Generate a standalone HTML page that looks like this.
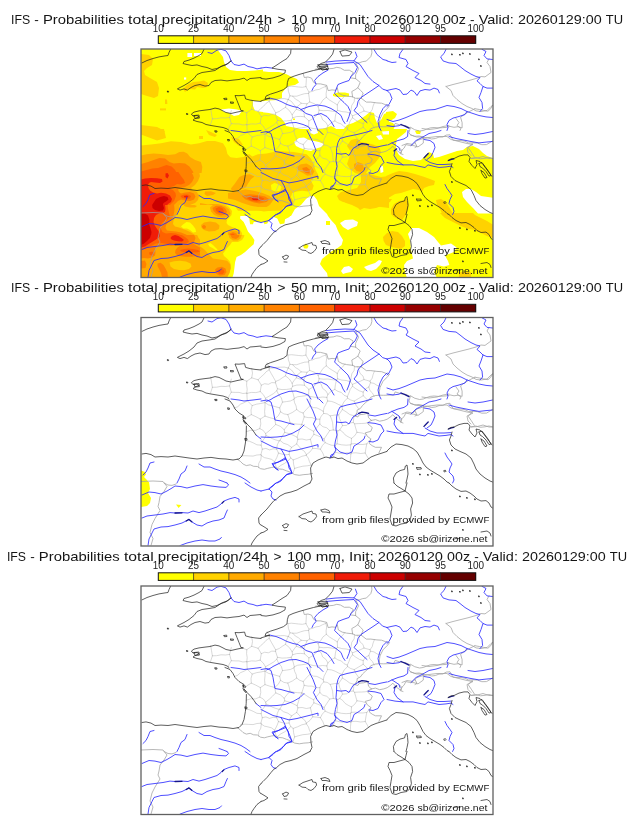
<!DOCTYPE html>
<html lang="en"><head><meta charset="utf-8"><title>IFS precipitation probabilities</title>
<style>html,body{margin:0;padding:0;background:#fff}body{width:630px;height:828px;overflow:hidden;font-family:"Liberation Sans",sans-serif}svg{display:block;will-change:transform}</style></head><body>
<svg width="630" height="828" viewBox="0 0 630 828">
<defs>
<clipPath id="mc"><rect x="0" y="0" width="352.0" height="228.0"/></clipPath>
<g id="base" fill="none" stroke-linejoin="round" stroke-linecap="round">
<path stroke="#b2b2b2" stroke-width="0.5" d="M117.6,150.2 L117.7,146.0 L119.8,142.2 L120.3,138.0 M99.8,138.5 L103.9,138.2 L107.9,138.4 L112.0,138.6 L115.9,137.5 L119.9,137.2 M120.3,138.0 L119.9,137.2 M165.4,28.7 L165.2,33.1 L164.9,37.6 M164.9,37.6 L161.3,38.3 L157.7,38.0 L154.1,37.6 L150.5,37.2 L146.9,37.6 M120.3,138.0 L123.3,140.1 L127.0,140.9 L130.6,141.9 L133.6,144.2 M135.2,149.9 L133.6,144.2 M105.2,114.2 L109.7,112.8 L114.4,112.9 L118.8,111.1 M104.1,123.0 L108.3,123.7 L112.1,125.3 L115.9,127.3 L120.1,127.7 M118.8,111.1 L122.3,113.0 L124.6,116.2 M124.6,116.2 L125.0,118.1 M125.0,118.1 L123.2,121.2 L121.0,124.1 L120.1,127.7 M119.9,137.2 L121.3,131.7 M121.3,131.7 L120.1,127.7 M217.6,91.3 L215.0,87.7 L213.2,83.6 M213.2,83.6 L217.8,80.9 L222.2,78.2 M227.1,83.0 L222.2,78.2 M188.7,113.1 L185.8,110.3 L181.8,109.2 L178.8,106.5 M188.7,113.1 L185.9,117.3 L183.1,121.5 M183.1,121.5 L179.9,119.5 L176.4,118.1 L172.9,116.8 M178.8,106.5 L175.8,110.2 L172.6,113.8 M172.6,113.8 L172.9,116.8 M179.4,131.7 L181.3,128.1 L184.1,125.1 M184.1,125.1 L183.1,121.5 M171.7,130.8 L170.5,126.3 L169.4,121.8 M171.7,130.8 L175.6,131.1 L179.4,131.7 M169.4,121.8 L172.9,116.8 M90.3,74.7 L94.2,74.9 L98.0,74.9 L101.9,76.0 L105.8,75.6 M105.8,75.6 L105.9,75.9 M93.3,90.6 L96.8,89.2 L99.6,86.6 L103.1,85.2 L106.3,83.2 M86.9,82.1 L88.2,78.2 L90.3,74.7 M106.3,83.2 L106.0,79.5 L105.9,75.9 M88.6,68.4 L90.3,61.6 M88.6,68.4 L84.4,69.0 L80.0,68.8 L75.7,69.7 L71.4,69.8 M71.4,69.8 L70.5,64.7 L69.7,59.5 M90.3,74.7 L88.6,68.4 M105.8,75.6 L106.2,71.7 L105.6,67.7 L105.8,63.7 M105.8,63.7 L99.7,61.5 M69.5,75.6 L71.4,69.8 M105.8,63.7 L110.7,60.3 M110.7,60.3 L111.5,55.6 L110.7,50.9 M178.8,101.7 L178.8,106.5 M178.8,101.7 L174.8,101.7 L171.1,100.1 L167.1,100.1 L163.2,99.3 M160.8,107.0 L164.8,109.2 L168.6,111.7 L172.6,113.8 M160.8,107.0 L160.8,106.9 M160.8,106.9 L162.0,103.1 L163.2,99.3 M151.2,65.8 L151.6,68.8 M151.2,65.8 L153.2,62.9 L155.4,60.2 M151.6,68.8 L155.5,67.6 L159.5,67.4 L163.5,67.8 M155.4,60.2 L159.0,61.6 L162.7,62.3 M162.7,62.3 L163.5,67.8 M167.6,77.5 L167.9,71.9 M167.6,77.5 L164.0,78.3 L160.4,78.8 L156.7,79.2 L153.3,80.8 M167.9,71.9 L163.5,67.8 M153.3,80.8 L152.1,76.0 L150.2,71.3 M150.2,71.3 L151.6,68.8 M147.3,50.5 L149.0,46.8 M147.3,50.5 L150.5,52.5 L152.8,55.5 L155.2,58.4 M160.2,54.3 L157.5,51.8 L154.3,50.0 L151.8,47.2 M160.2,54.3 L155.2,58.4 M151.8,47.2 L149.0,46.8 M147.2,50.5 L147.3,50.5 M147.2,50.5 L143.4,49.6 L139.6,49.7 L135.8,49.8 L132.0,50.5 L128.2,50.5 M146.9,37.6 L147.4,42.3 L149.0,46.8 M128.2,50.5 L126.2,45.5 M155.4,60.2 L155.2,58.4 M144.5,58.3 L148.4,61.6 L151.2,65.8 M144.5,58.3 L145.5,54.3 L147.2,50.5 M167.6,44.4 L168.2,48.6 L168.7,52.9 M167.6,44.4 L163.5,44.7 L159.7,45.8 L155.8,47.2 L151.8,47.2 M166.0,54.8 L168.7,52.9 M166.0,54.8 L160.2,54.3 M166.0,54.8 L164.6,58.6 L162.7,62.3 M164.9,37.6 L168.0,43.1 M168.0,43.1 L167.6,44.4 M153.6,150.9 L152.6,146.7 L152.2,142.4 M153.6,150.9 L157.7,149.7 L161.8,148.7 L166.1,148.3 L170.2,147.6 M170.2,147.6 L168.5,144.3 L167.4,140.8 L165.3,137.8 M165.3,137.8 L160.8,138.8 L156.6,140.8 L152.2,142.4 M151.8,156.1 L153.6,150.9 M136.6,150.4 L139.8,147.9 L143.5,145.9 L146.9,143.6 L149.7,140.5 M152.2,142.4 L149.7,140.5 M133.6,144.2 L135.8,140.0 L137.5,135.6 M149.7,140.5 L148.1,137.0 M137.5,135.6 L141.0,136.6 L144.5,137.3 L148.1,137.0 M121.3,131.7 L124.9,130.9 L128.5,132.4 L132.1,131.3 L135.7,131.7 M137.5,135.6 L135.7,131.7 M125.0,118.1 L128.3,119.4 L131.4,121.2 L134.7,122.4 L138.2,123.4 M135.7,131.7 L136.3,127.3 L138.2,123.4 M233.1,79.0 L231.6,75.7 L228.9,73.0 L227.8,69.5 M239.4,68.9 L236.0,67.9 L233.0,65.9 L229.5,65.2 M229.5,65.2 L227.8,69.5 M216.0,114.8 L214.7,110.6 L213.5,106.3 M213.5,106.3 L217.1,106.1 L220.6,106.0 L224.1,105.8 L227.5,104.9 M225.8,117.1 L221.0,115.5 L216.0,114.8 M213.0,98.3 L215.7,95.7 M212.3,105.0 L213.0,98.3 M212.3,105.0 L213.5,106.3 M222.2,74.6 L224.4,71.4 L227.8,69.5 M222.2,78.2 L222.2,74.6 M227.5,141.2 L224.2,135.5 M224.2,135.5 L224.9,130.9 L225.8,126.4 M225.8,126.4 L229.8,121.5 M233.5,53.6 L232.1,57.0 L231.2,60.7 L229.0,63.7 M229.0,63.7 L229.5,65.2 M211.4,66.9 L215.3,65.3 L219.2,63.8 L223.0,62.0 M211.4,66.9 L211.5,68.7 M211.5,68.7 L214.8,71.2 L218.3,73.3 L222.2,74.6 M223.0,62.0 L229.0,63.7 M225.8,126.4 L221.9,127.0 L218.0,126.9 L214.1,126.1 L210.2,126.4 M216.0,114.8 L213.7,118.3 L210.5,120.9 M210.5,120.9 L210.2,126.4 M224.2,135.5 L219.6,136.0 L215.0,135.3 L210.4,135.5 M210.4,135.5 L209.5,131.4 L209.7,127.3 M210.2,126.4 L209.7,127.3 M191.6,140.5 L194.4,134.7 M194.4,134.7 L198.3,135.7 L202.1,136.2 L206.2,135.2 L209.9,136.4 M209.9,136.4 L209.5,140.7 L209.2,145.0 M184.1,125.1 L187.4,126.6 L190.8,127.8 L194.4,127.9 M179.4,131.7 L181.8,135.6 L183.5,139.9 M194.4,127.9 L194.4,134.7 M165.4,137.1 L165.3,137.8 M170.2,147.6 L170.7,148.0 M171.7,130.8 L169.0,134.4 L165.4,137.1 M196.0,126.3 L200.5,127.3 L205.1,127.7 L209.7,127.3 M194.4,127.9 L196.0,126.3 M210.4,135.5 L209.9,136.4 M182.7,95.9 L182.3,93.8 M178.8,101.7 L180.3,98.5 L182.7,95.9 M162.2,95.5 L163.2,99.3 M162.2,95.5 L165.6,91.7 L169.1,88.1 M182.3,93.8 L179.1,92.0 L175.9,90.4 L172.1,90.1 L169.1,88.1 M197.7,97.4 L193.4,97.6 L189.2,98.4 M197.7,97.4 L198.5,101.1 L200.2,104.6 L201.5,108.1 M189.2,98.4 L190.6,101.8 L191.6,105.2 L191.9,108.8 L192.3,112.4 M201.5,108.1 L198.8,112.4 M198.8,112.4 L196.8,113.4 M192.3,112.4 L196.8,113.4 M212.3,105.0 L208.6,105.5 L205.4,107.9 L201.5,108.1 M201.4,92.0 L197.7,97.4 M213.0,98.3 L208.7,97.0 L205.1,94.3 L201.4,92.0 M188.7,113.1 L192.3,112.4 M182.7,95.9 L186.2,96.4 L189.2,98.4 M210.5,120.9 L207.2,119.3 L204.1,117.4 L201.8,114.5 L198.8,112.4 M196.0,126.3 L196.6,122.0 L196.4,117.7 L196.8,113.4 M201.4,92.0 L201.0,88.4 M182.3,93.8 L183.1,90.1 L184.9,86.8 L186.6,83.5 M201.0,88.4 L197.5,87.0 L194.1,85.2 L190.5,83.9 L186.6,83.5 M213.2,83.6 L209.7,82.5 L206.6,80.6 M201.0,88.4 L203.1,84.0 L206.6,80.6 M168.6,78.8 L172.9,79.6 L177.2,80.1 L181.5,79.5 L185.8,79.9 M169.1,88.1 L169.3,83.4 L168.6,78.8 M185.8,79.9 L186.6,83.5 M211.5,68.7 L209.2,71.9 L207.9,75.6 L206.3,79.1 M206.3,79.1 L206.6,80.6 M223.0,62.0 L222.0,58.5 L219.1,56.0 L217.9,52.6 L216.7,49.3 M211.4,66.9 L209.4,64.2 M209.4,64.2 L210.1,60.3 L210.8,56.3 L213.2,52.8 L213.5,48.8 M120.3,67.7 L117.1,62.3 M120.3,67.7 L123.7,66.2 L127.4,66.8 L130.8,65.1 L134.5,65.3 M117.1,62.3 L119.7,59.6 L122.6,57.2 L125.1,54.3 L128.2,52.3 M128.2,52.3 L130.3,56.2 L132.5,60.0 L134.7,63.9 M134.5,65.3 L134.7,63.9 M105.9,75.9 L110.3,74.9 L114.8,75.1 L119.2,74.1 M119.2,74.1 L120.3,67.7 M110.7,60.3 L117.1,62.3 M119.2,74.1 L122.3,77.1 L124.5,80.8 M135.8,73.2 L132.4,76.2 L128.4,78.5 L124.5,80.8 M136.5,71.3 L134.5,65.3 M135.8,73.2 L136.5,71.3 M128.2,50.5 L128.2,52.3 M144.5,58.3 L141.3,60.3 L138.2,62.5 L134.7,63.9 M136.5,71.3 L141.0,72.1 L145.6,71.9 L150.2,71.3 M110.3,97.1 L110.0,92.5 L111.2,88.1 M110.3,97.1 L114.9,99.2 L119.3,101.6 M111.2,88.1 L115.4,86.7 L119.7,86.0 L124.0,85.1 M119.3,101.6 L124.0,98.6 M124.0,98.6 L123.6,94.1 L124.0,89.6 L124.0,85.2 M124.0,85.2 L124.0,85.1 M105.8,99.8 L110.3,97.1 M106.3,83.2 L111.2,88.1 M118.8,111.1 L119.8,106.4 L119.3,101.6 M124.5,80.8 L124.0,85.1 M134.7,106.9 L133.7,101.4 M133.7,101.4 L128.8,100.2 L124.0,98.6 M124.6,116.2 L128.2,113.3 L131.5,110.2 L134.7,106.9 M146.8,97.1 L151.5,94.9 L155.7,92.0 M146.8,97.1 L142.9,96.4 L139.5,94.3 M141.5,84.6 L138.7,90.4 M141.5,84.6 L145.4,84.1 L149.3,83.5 L152.9,81.8 M152.9,81.8 L153.6,85.3 L155.1,88.5 L155.7,92.0 M138.7,90.4 L139.5,94.3 M149.0,105.3 L148.2,101.1 L146.8,97.1 M149.0,105.3 L152.9,106.3 L156.8,106.7 L160.8,106.9 M162.2,95.5 L158.7,94.3 L155.7,92.0 M133.7,101.4 L137.2,98.4 L139.5,94.3 M143.2,112.2 L139.4,108.9 L134.7,106.9 M143.2,112.2 L146.0,108.7 L149.0,105.3 M135.8,73.2 L137.6,77.1 L140.4,80.5 L141.5,84.6 M124.0,85.2 L127.4,87.3 L131.2,88.3 L134.9,89.3 L138.7,90.4 M153.3,80.8 L152.9,81.8 M167.6,77.5 L168.6,78.8 M150.6,129.9 L146.9,127.2 L142.5,125.7 L139.0,122.9 M150.6,129.9 L155.7,126.4 M155.7,126.4 L156.9,121.8 M143.7,114.8 L148.0,116.1 L152.1,117.7 L156.1,119.7 M143.7,114.8 L141.2,118.8 L139.0,122.9 M156.9,121.8 L156.1,119.7 M148.1,137.0 L148.6,133.2 L150.6,129.9 M138.2,123.4 L139.0,122.9 M165.4,137.1 L163.5,133.9 L160.5,131.8 L158.1,129.1 L155.7,126.4 M169.4,121.8 L165.3,122.5 L161.1,121.5 L156.9,121.8 M143.2,112.2 L143.7,114.8 M160.8,107.0 L158.7,111.1 L157.5,115.4 L156.1,119.7 M186.9,76.9 L190.0,74.0 L193.8,71.9 M186.9,76.9 L184.9,73.4 L181.6,70.9 L180.2,67.0 L177.4,64.2 M177.4,64.2 L178.1,61.2 M178.1,61.2 L182.5,61.7 L186.9,61.5 L191.2,62.2 L195.5,62.5 M195.5,62.5 L194.4,67.2 L193.8,71.9 M206.3,79.1 L203.0,77.7 L200.4,75.0 L196.8,73.8 L193.8,71.9 M185.8,79.9 L186.9,76.9 M167.9,71.9 L171.5,69.9 L174.6,67.2 L177.4,64.2 M177.2,57.8 L178.1,61.2 M168.7,52.9 L173.3,54.7 L177.2,57.8 M209.4,64.2 L205.2,63.0 L200.8,62.6 L196.5,61.3 M196.5,61.3 L195.5,62.5 M185.3,48.3 L188.7,51.2 L192.6,53.5 L196.3,55.9 M185.3,48.3 L185.1,44.7 L185.7,41.0 L184.9,37.4 M196.3,55.9 L198.2,52.3 L201.4,49.7 L203.9,46.5 M184.9,37.4 L185.5,36.4 M196.5,61.3 L196.3,55.9 M177.2,57.8 L179.7,54.5 L182.0,50.9 L185.3,48.3 M168.0,43.1 L171.5,42.4 L174.8,40.9 L178.3,40.4 L181.5,38.7 L184.9,37.4"/>
<path stroke="#a0a0a0" stroke-width="0.75" d="M305.0,37.5 L312.0,35.5 L320.0,33.5 L328.0,31.5 L335.0,29.5 L340.0,27.5 L344.0,27.9 L350.0,23.5 L349.0,17.5 L346.0,13.5 L348.0,9.9 M305.0,37.5 L310.0,41.5 L312.0,46.5 L316.0,50.5 L321.0,54.5 L326.0,57.5 L331.0,59.5 L335.0,61.9 L340.0,62.5 L346.0,61.5 L350.0,57.5 L351.6,56.5 M281.0,79.5 L288.0,80.5 L296.0,79.5 L302.0,77.5 L308.0,76.5 M315.0,69.5 L318.0,73.5 L316.0,76.5 L320.0,79.5 L319.0,81.5 M261.0,96.5 L266.0,94.5 L272.0,95.5 L276.0,91.5 L282.0,89.5 L288.0,88.5 L296.0,87.5 L306.0,87.5 L310.0,90.5 L318.0,92.5 L326.0,94.5 L332.0,95.5 L326.0,98.5 L327.0,103.5 L330.0,106.5 M330.0,109.5 L336.0,109.1 L342.0,107.5 L348.0,109.5 L351.6,109.5 M258.0,98.5 L261.0,101.5 L259.0,104.5 L262.0,105.5 M274.0,93.5 L276.0,97.5 L274.0,98.5 M0.0,164.0 L12.0,163.5 L22.0,164.0 L26.0,169.0 L23.0,174.0 L19.0,179.0 L18.0,185.0 L17.0,189.0 L19.0,193.0 L14.0,201.0 L11.0,207.0 L9.0,215.0 L12.0,221.0 L10.0,228.0 M23.0,165.5 L27.0,167.5 L31.0,167.9 L35.0,166.5 M96.2,141.6 L99.3,143.8 L102.0,146.5 L105.3,148.1 L109.2,147.3 L112.6,148.8 L116.4,149.0 L119.6,151.2 L123.3,151.8 L126.8,150.8 L130.3,150.0 L133.9,149.5 L137.5,151.4 L141.6,151.8 L145.4,153.3 L149.6,154.8 L153.7,157.1 L158.3,157.8 L162.9,157.1 L167.2,156.8 L171.5,155.9 M237.9,135.4 L240.5,129.8 L234.4,129.8 L231.2,128.2 L228.3,126.0 L229.8,121.4 L226.4,118.9 L224.2,115.4 L229.8,113.8 L231.3,110.1 L226.8,106.3 L227.8,104.3 L230.4,102.9 M230.4,102.9 L227.5,100.2 L226.8,95.6 L222.7,96.8 L218.4,97.2 L216.9,99.4 L214.1,98.7 L216.1,94.9 L216.1,92.6 L219.3,91.0 L221.5,88.0 L224.8,84.9 L228.3,82.0 L229.8,79.7 L234.1,78.1 L238.6,77.7 M238.6,77.7 L238.4,73.8 L239.0,69.8 L242.0,63.8 L246.6,59.2 L248.5,56.6 L245.0,55.9 L240.6,54.2 L235.9,53.9 L229.8,53.1 L225.3,53.1 L220.2,49.2 M220.2,49.2 L214.6,49.3 L211.6,47.8 M211.6,47.8 L205.5,47.1 L201.2,46.1 L197.4,44.0 L196.3,38.7 L194.8,41.3 L191.0,40.9 L187.2,41.6 L185.7,36.4 L179.6,34.9 L176.0,34.8 L172.7,33.4 L170.5,29.1 L167.0,28.0 L163.3,28.5 L162.1,24.4 M238.6,77.7 L242.6,77.8 L246.6,77.7 L252.7,77.4 L254.2,74.4 L260.3,76.4 L265.1,76.9 L269.4,78.9 L267.9,83.5 L269.4,85.8 L273.6,87.3 L278.1,87.0 L282.3,88.0 L282.3,94.1 L277.0,97.9 L273.0,96.7 L268.9,96.4 L264.8,95.6 L263.1,99.1 L260.3,101.7 L260.3,104.3 L257.0,102.4 L254.3,100.0 L251.9,97.2 L249.2,99.6 L246.2,101.7 L242.8,102.9 L238.6,103.7 L234.5,102.1 L230.4,102.9 M230.6,0.0 L230.9,3.9 L229.8,7.6 L225.3,12.1 L221.7,12.6 L218.3,13.8 L214.6,13.7 L217.6,19.7 L214.6,25.8 L214.6,29.6 M174.6,20.2 L178.1,19.6 L181.7,20.4 L185.2,20.6 L188.7,19.7 L192.3,19.4 L195.8,18.3 L199.4,19.0 L203.4,21.3 L208.3,21.2 L212.3,23.5 L209.3,28.8 L214.6,29.6 M214.6,29.6 L219.2,33.4 L216.9,38.7 L213.9,40.8 L210.8,42.5 L211.6,47.8 M216.9,38.7 L219.5,41.4 L222.2,44.0 L220.2,49.2 M269.4,78.2 L273.7,80.7 L278.5,82.0 L282.2,81.5 L285.7,80.1 L289.2,78.9 L293.1,78.5 L297.1,78.9 L301.1,78.7 L305.1,78.4 L309.0,77.4 L313.0,78.3 L317.2,77.7 L321.1,78.9 L321.1,73.6 L319.6,68.3 L323.6,65.2 L328.0,62.7 L333.9,59.7 M333.9,59.7 L338.3,60.5 L342.7,61.4 L347.0,62.2 L349.8,59.6 L351.6,56.2 M282.3,88.5 L286.6,88.8 L290.7,90.0 L294.4,89.5 L298.0,88.1 L301.8,88.0 L305.2,86.1 L309.0,85.8 L312.0,91.1 L316.0,91.6 L320.0,91.5 L324.0,92.2 L327.7,94.0 L331.8,93.8 L336.4,94.1 L340.8,95.7 L345.5,95.6 L348.6,93.8 L351.6,91.8 M331.8,93.8 L327.2,98.7 L330.3,103.2 L333.3,107.8 M330.3,109.3 L334.8,108.5 L339.4,109.8 L344.0,109.3 L347.8,108.5 L351.6,109.3 M269.4,85.8 L275.5,88.0 L282.3,88.0"/>
<path stroke="#2626ff" stroke-width="0.82" d="M67.0,3.5 L71.0,4.5 L76.0,1.1 L80.0,0.3 L85.0,1.9 L88.0,6.5 L90.0,11.9 L93.0,15.5 L98.0,16.5 L103.0,15.1 L107.0,17.5 L112.0,18.5 L116.0,19.9 L120.0,19.1 M120.0,19.1 L125.0,18.3 L131.0,19.1 M185.0,13.1 L194.0,12.1 L204.0,11.5 L213.0,11.9 L216.0,7.5 L214.4,3.1 M213.0,11.9 L219.0,15.5 L223.0,21.5 L227.0,27.5 L232.0,32.5 L238.0,36.5 L241.6,40.1 L246.0,41.5 M238.0,36.5 L233.0,39.9 L226.0,44.5 L220.0,48.5 L217.0,52.5 L216.0,57.5 L213.0,61.5 L217.0,65.1 L222.0,69.9 L226.0,73.5 M185.0,15.5 L196.0,14.5 L206.0,13.9 L213.0,13.5 L216.4,18.5 L214.0,23.5 L210.0,27.5 L208.0,31.5 L202.0,33.5 L197.0,35.5 L195.0,40.5 L193.6,44.5 L197.6,48.5 L203.0,53.5 L207.0,57.5 L209.4,62.5 L208.0,67.5 L206.0,72.5 M187.0,21.1 L182.0,23.9 L177.0,27.5 L173.6,31.5 L175.0,35.5 L172.4,38.5 L171.0,41.5 M129.0,49.1 L135.0,50.5 L140.0,52.5 L146.0,55.5 L152.0,57.5 L157.0,58.5 L160.0,60.5 L165.0,64.5 L171.0,66.5 L173.0,71.5 L175.0,76.5 L177.0,81.5 M160.0,60.5 L168.0,57.5 L176.0,55.9 L184.0,57.1 L190.0,59.5 L195.0,62.5 L200.0,66.5 L202.0,71.5 L204.0,74.5 M173.0,66.5 L180.0,64.5 L186.0,67.5 L190.0,72.5 L193.0,77.5 M125.6,83.9 L130.0,81.9 L132.0,80.5 L140.0,76.5 L148.0,73.9 L155.0,73.5 L162.0,75.5 L167.0,77.5 L170.0,81.5 M233.0,0.5 L236.0,5.5 L242.0,10.5 L246.0,11.5 M246.0,55.5 L242.0,59.5 L239.0,65.5 L237.0,72.5 L238.0,77.5 L240.0,81.5 M262.0,0.3 L259.0,4.5 L258.0,8.5 L265.0,10.5 L267.0,14.5 L265.0,17.5 L272.0,21.5 L278.0,24.5 L274.0,28.5 L280.0,31.5 L284.0,34.5 L289.0,35.1 M246.0,11.9 L251.0,13.5 L255.0,13.1 M246.0,41.5 L250.0,40.5 L255.0,39.5 L259.0,41.1 L262.0,45.5 L266.0,45.1 L270.0,41.1 L273.0,42.5 L276.0,46.5 L279.0,41.9 L284.0,40.5 L289.0,41.1 L293.0,39.1 L297.0,40.5 L298.4,43.9 M246.0,41.5 L249.0,44.5 L251.0,49.5 L248.0,55.5 L246.0,57.5 M305.0,0.3 L303.0,4.5 L299.6,7.9 L302.0,11.9 L308.0,13.9 L315.0,14.5 L319.0,17.5 L324.0,21.5 L330.0,25.1 L335.0,27.5 L339.0,28.5 L336.0,31.9 L339.0,34.5 L342.0,37.5 L346.0,39.1 L351.6,39.1 M342.0,37.5 L340.0,43.5 L338.0,48.5 L341.0,53.5 L341.6,59.5 L339.0,62.5 M341.0,0.3 L345.0,2.5 L343.0,6.5 L346.0,9.9 L351.6,10.5 M246.0,70.5 L252.0,72.5 L258.0,71.1 L265.0,68.5 L272.0,65.5 L279.0,62.5 L286.0,61.1 L294.0,60.5 L300.0,58.5 L306.0,56.5 L313.0,57.5 L320.0,59.5 L326.0,62.5 L332.0,64.5 L338.0,66.5 L345.0,67.9 L351.6,68.5 M326.0,62.5 L324.0,65.5 L318.0,67.5 L312.0,69.1 L308.0,71.5 L306.0,75.5 L307.0,78.5 L306.0,81.5 M246.0,76.5 L252.0,77.5 L258.0,76.7 L260.0,75.5 M115.0,117.5 L120.0,121.5 M13.0,144.5 L9.0,145.5 L7.0,150.5 L5.0,154.5 L2.0,157.5 M46.0,148.5 L44.0,153.5 L40.0,156.5 L38.0,161.5 L36.0,165.5 M58.0,146.5 L63.0,149.5 L69.0,149.5 L74.0,151.5 L80.0,153.5 L87.0,155.1 L94.0,157.1 L100.0,159.5 L105.0,162.5 L109.0,165.5 M78.0,162.5 L82.0,163.9 L86.0,165.5 M90.0,81.5 L98.0,82.5 L103.0,83.5 L112.0,82.5 L120.0,81.5 M231.0,81.5 L224.0,83.5 L216.0,85.5 L206.0,87.5 L199.0,89.5 L197.0,93.5 L195.6,99.5 L195.6,104.5 L195.0,111.5 L196.0,117.5 L194.4,123.5 L193.6,128.5 L195.0,132.5 L192.4,136.5 L190.0,139.9 M218.0,95.9 L212.0,99.5 L208.0,106.5 L205.0,104.5 L200.0,105.1 L195.6,104.5 M193.6,129.5 L199.0,134.5 L206.0,136.5 L211.0,134.5 L213.0,128.5 L218.0,125.5 L223.0,121.5 L224.0,118.5 M228.0,97.5 L234.0,98.5 L240.0,97.1 L246.0,95.9 M227.0,105.1 L234.0,105.9 L240.0,107.5 L243.0,113.5 L240.0,116.5 L237.0,122.5 L232.0,124.5 L228.0,123.9 M166.0,81.5 L169.0,87.5 L172.0,93.5 L175.0,101.5 L172.4,106.5 L176.0,113.5 L180.0,118.5 L182.0,123.5 M178.0,81.5 L182.0,85.5 M120.0,83.5 L126.0,82.5 L130.0,84.5 L132.0,91.5 L133.0,97.5 L134.0,102.5 L140.0,103.5 L147.0,105.5 L153.0,107.1 M120.0,119.5 L128.0,119.9 L136.0,119.5 L144.0,118.5 L152.0,115.5 L159.0,111.5 L163.0,107.5 M120.0,123.5 L126.0,126.5 L132.0,129.5 L140.0,131.5 L148.0,133.9 L156.0,132.5 L164.0,130.5 L172.0,128.5 L177.0,127.1 L177.0,129.5 M140.0,131.5 L143.0,136.5 L145.0,141.5 L140.0,143.5 L135.0,145.5 L132.0,147.1 L134.0,150.5 L137.0,152.5 M145.0,141.5 L148.0,147.5 L150.0,152.5 L151.0,155.9 L146.0,157.1 L143.0,159.5 L140.0,163.5 L136.0,165.5 M189.0,140.5 L190.0,137.5 L192.4,136.5 M246.0,113.5 L254.0,115.1 L262.0,115.9 L272.0,115.9 L279.0,117.5 L284.0,118.5 L287.0,115.9 L292.0,117.1 L298.0,118.5 L305.0,117.9 L310.0,117.1 L312.0,118.5 M284.0,110.5 L289.0,113.5 L296.0,115.5 L303.0,115.5 L310.0,115.1 M254.0,101.5 L253.0,106.5 L256.0,111.5 L262.0,115.9 M283.0,90.5 L289.0,91.5 L293.0,94.5 L294.0,98.5 L292.0,103.5 L290.0,107.5 L286.0,110.5 M267.0,81.5 L266.6,87.5 L263.0,89.9 L257.0,91.5 L251.0,93.9 L247.0,95.9 M251.0,93.9 L255.0,96.5 L258.0,98.5 L259.0,101.5 M270.0,96.5 L275.0,91.5 L281.0,88.5 L288.0,84.5 L295.0,83.1 L300.0,81.5 M308.0,87.5 L315.0,89.5 L323.0,91.1 L330.0,92.5 L338.0,93.9 L345.0,93.1 L351.6,92.5 M327.0,84.5 L334.0,85.5 L342.0,84.5 L351.6,82.5 M304.0,135.5 L306.0,139.5 L309.0,143.5 L311.0,146.5 L309.0,150.5 L308.0,154.5 L312.0,158.5 L313.0,162.5 L311.6,165.5 M1.0,177.5 L8.0,174.5 L14.0,175.1 L20.0,176.5 L26.0,173.5 L31.0,170.5 L34.0,168.5 L40.0,169.1 L46.0,170.5 L54.0,168.5 L62.0,167.1 L70.0,168.5 L78.0,169.5 L85.0,169.9 L87.6,167.5 L86.0,165.5 M104.0,165.5 L110.0,169.5 L116.0,172.5 L120.0,173.5 M1.0,200.5 L6.0,198.5 L14.0,197.5 L22.0,196.5 L29.0,195.1 L34.0,195.5 L41.0,195.1 L47.0,195.5 L52.0,193.5 L58.0,195.1 L64.0,193.5 L70.0,191.5 L76.0,189.5 L80.0,186.5 L83.0,183.5 L88.0,181.5 L94.0,179.9 L98.0,181.5 L98.0,184.5 M7.0,228.1 L8.0,221.5 L11.0,215.5 L13.0,211.5 L20.0,209.5 L27.0,209.1 L34.0,207.5 L41.0,205.5 L45.0,203.5 L48.0,201.9 L51.0,204.5 L56.0,207.5 L61.0,208.5 L66.0,205.5 L72.0,203.5 L78.0,202.5 L83.0,200.5 L85.0,195.5 L86.4,192.5 M39.0,228.1 L46.0,225.5 L54.0,223.5 L61.0,222.5 L68.0,223.5 L74.0,223.5 L79.0,221.5 L80.4,219.9 M120.0,173.5 L124.0,172.5 L128.0,171.5 L131.0,174.5 L130.0,178.5 L132.0,181.5 L135.0,182.5 M135.0,165.5 L132.0,168.5 L128.0,171.5 M144.0,140.5 L147.0,145.0 L148.0,150.5 L151.0,155.0 L145.4,157.0 L142.6,160.5 L138.0,164.0 L134.0,166.1 L128.0,171.1 M137.0,152.5 L133.3,149.7 L131.0,146.1 L137.0,144.7 L144.0,140.5"/>
<path stroke="#15158a" stroke-width="1.3" d="M260.0,75.5 L264.0,77.1 L268.0,79.1 M217.6,95.9 L221.0,94.7 L225.0,95.1 L227.6,95.9 M307.6,111.5 L310.4,110.3 L312.8,109.9 M253.0,101.9 L254.4,100.7 L255.6,99.9 M283.0,108.9 L285.0,106.7 L287.2,104.5 M34.0,195.5 L41.0,195.3 M81.2,185.5 L82.8,183.9 M45.2,203.5 L48.0,201.9 L50.8,204.3"/>
<path stroke="#202020" stroke-width="0.72" d="M1.0,13.9 L6.0,11.5 L12.0,9.5 L18.0,7.9 L24.0,6.9 L27.0,6.5 L28.0,3.5 L29.6,0.3 M63.0,0.3 L61.0,4.5 L58.0,6.5 L53.0,9.1 L48.0,11.1 L43.0,12.5 L42.0,14.5 L46.0,15.5 L51.0,16.5 L56.0,15.9 L61.0,17.5 L66.0,18.5 L71.0,20.5 L76.0,19.5 L82.0,16.5 L87.0,14.5 L90.0,11.9 M90.0,11.9 L85.0,15.9 L80.0,17.5 L74.0,21.5 L68.0,22.5 L61.0,23.5 L56.0,25.5 L53.0,29.5 L48.0,33.5 L43.0,36.5 L39.0,38.5 L36.4,39.9 L39.0,41.1 L43.0,39.9 L46.4,41.1 L50.0,38.5 L54.0,36.5 L59.0,35.5 L64.0,37.1 L68.0,36.5 L70.0,33.5 L74.0,31.5 L80.0,31.1 L86.0,31.9 L92.0,31.1 L98.0,30.5 L103.0,29.1 L106.0,31.5 L109.0,29.5 L114.0,29.1 L120.0,28.5 M26.4,42.3 L27.6,42.3 L27.6,43.1 L26.4,43.1 L26.4,42.3 M83.0,49.5 L85.6,49.1 L86.0,50.5 L83.4,50.7 L83.0,49.5 M89.6,53.1 L92.4,53.1 L92.4,54.3 L89.6,54.3 L89.6,53.1 M45.6,64.7 L46.8,64.7 L46.8,65.5 L45.6,65.5 L45.6,64.7 M102.0,61.9 L100.0,61.5 L98.0,56.5 L96.0,51.5 L94.0,46.5 L98.0,46.7 L103.6,46.1 L104.6,49.9 L109.0,51.1 L114.0,51.9 L120.0,52.5 M102.0,61.9 L96.0,63.1 L90.0,64.5 L85.0,63.5 L82.0,61.9 L78.0,59.9 L74.0,59.1 L69.0,60.5 L64.0,61.1 L58.0,61.9 L53.0,63.1 L50.4,65.1 L52.0,67.1 L56.0,66.5 L58.0,67.9 L54.0,69.5 L52.0,71.1 L56.0,72.5 L61.0,73.5 L65.0,75.5 L70.0,76.5 L76.0,77.5 L82.0,78.5 L86.0,79.9 L88.0,81.5 M53.0,66.5 L58.0,66.1 L58.4,69.1 L54.0,69.5 L53.0,66.5 M150.0,0.3 L149.6,4.5 L146.0,9.5 L141.0,12.5 L136.0,15.9 L131.0,19.1 L137.0,20.3 L144.4,21.1 L144.0,23.9 L139.0,26.7 L132.0,28.9 L125.0,30.1 L120.0,29.5 M193.0,0.3 L191.6,5.1 L188.4,9.1 L184.4,13.1 L180.0,14.5 L176.0,17.5 L178.0,19.9 L184.0,18.5 L187.0,20.5 L180.0,19.9 L172.4,21.5 L165.0,23.5 L158.0,25.5 L152.0,27.5 L147.6,29.5 L146.4,33.5 L146.0,37.9 L142.4,40.7 L136.0,43.1 L129.6,45.1 L125.0,47.1 L124.0,49.9 L129.0,49.1 L124.0,50.7 L120.0,51.9 M177.0,15.9 L186.0,15.1 L187.0,17.5 L180.0,18.3 L177.0,15.9 M178.0,17.5 L186.0,16.7 L187.6,19.9 L181.0,21.1 L178.0,17.5 M199.0,2.5 L204.0,0.9 L211.0,3.1 L208.4,6.5 L201.0,7.1 L199.0,2.5 M310.6,5.1 L311.4,5.1 L311.4,5.9 L310.6,5.9 L310.6,5.1 M318.6,5.5 L319.4,5.5 L319.4,6.3 L318.6,6.3 L318.6,5.5 M321.6,4.1 L322.4,4.1 L322.4,4.9 L321.6,4.9 L321.6,4.1 M328.6,4.7 L329.4,4.7 L329.4,5.5 L328.6,5.5 L328.6,4.7 M337.6,10.1 L338.4,10.1 L338.4,10.9 L337.6,10.9 L337.6,10.1 M339.6,16.7 L340.4,16.7 L340.4,17.5 L339.6,17.5 L339.6,16.7 M84.0,81.5 L89.0,83.5 L92.0,87.5 L94.0,91.5 L98.0,95.5 L103.0,98.5 L102.0,102.5 L106.0,106.5 L110.0,110.5 L113.0,114.5 L115.0,117.5 M105.4,108.5 L105.2,117.5 L104.4,125.5 L103.0,133.5 L101.0,138.5 L98.0,141.5 L92.0,142.5 L85.0,141.5 L78.0,141.1 L70.0,139.9 L63.0,140.5 L56.0,141.5 L48.0,140.5 L41.0,139.5 L34.0,138.5 L27.0,139.5 L20.0,139.1 L14.0,139.5 L10.0,137.1 L5.0,135.9 L1.0,136.5 M104.0,121.1 L106.0,121.1 L106.0,122.7 L104.0,122.7 L104.0,121.1 M74.0,81.9 L76.0,81.9 L76.0,83.1 L74.0,83.1 L74.0,81.9 M86.8,90.5 L88.4,90.5 L88.4,91.9 L86.8,91.9 L86.8,90.5 M102.0,99.1 L105.0,100.5 L104.4,101.5 L101.6,100.3 L102.0,99.1 M103.0,103.1 L105.6,105.9 L104.8,106.7 L102.4,103.9 L103.0,103.1 M169.0,165.5 L171.0,161.5 L170.0,156.5 L169.6,150.5 L172.0,145.5 L177.0,142.5 L182.0,140.5 L185.0,139.5 L189.0,140.5 L193.0,139.5 L197.0,141.1 L201.0,140.5 L206.0,143.5 L211.0,145.5 L216.0,146.5 L222.0,145.5 L226.0,142.5 L230.0,139.5 L235.0,137.5 L240.0,135.9 L246.0,133.9 M246.0,133.5 L250.0,129.5 L255.0,126.5 L261.0,127.1 L267.0,128.5 L272.0,131.1 L276.0,134.5 L279.0,139.5 L282.0,145.5 L285.0,149.5 L289.0,152.5 L294.0,155.5 L299.0,158.5 L303.0,161.5 L306.0,164.5 L308.0,165.5 M307.0,111.5 L310.0,109.9 L313.0,109.5 L318.0,107.1 L323.0,105.9 L327.0,105.9 L329.0,108.5 L328.0,112.5 L331.0,116.5 L334.0,119.5 L336.0,115.5 L335.0,111.5 L339.0,112.5 L342.0,115.5 L345.0,119.5 L348.0,123.5 L351.0,127.5 M338.0,114.5 L341.0,113.5 L344.0,117.5 L347.0,121.5 L350.0,126.5 L348.0,127.1 L345.0,122.5 L341.6,119.1 L339.0,117.5 L338.0,114.5 M340.0,121.5 L343.0,123.5 L346.0,128.5 L344.0,129.1 L341.0,124.5 L340.0,121.5 M311.0,114.5 L310.0,118.5 L308.4,122.5 L310.0,127.5 L314.0,131.5 L319.0,133.9 L325.0,136.5 L330.0,140.5 L333.0,146.5 L335.0,151.5 L339.0,156.5 L344.0,160.5 L349.0,163.5 L351.6,164.5 M253.0,165.5 L252.4,160.5 L255.0,155.5 L259.0,153.1 L263.6,151.9 L264.4,148.5 L266.0,147.5 L266.6,151.5 L267.0,156.5 L266.0,161.5 L265.0,165.5 M275.6,150.1 L280.0,150.1 L280.4,151.5 L276.0,151.9 L275.6,150.1 M271.6,146.1 L272.4,146.1 L272.4,146.9 L271.6,146.9 L271.6,146.1 M278.6,156.7 L279.4,156.7 L279.4,157.5 L278.6,157.5 L278.6,156.7 M290.6,156.1 L291.4,156.1 L291.4,156.9 L290.6,156.9 L290.6,156.1 M310.6,132.7 L311.4,132.7 L311.4,133.5 L310.6,133.5 L310.6,132.7 M286.6,157.1 L287.4,157.1 L287.4,157.9 L286.6,157.9 L286.6,157.1 M302.8,153.5 L304.0,152.5 L305.2,153.5 L304.0,154.7 L302.8,153.5 M120.0,197.5 L117.6,200.5 L118.0,205.5 L119.6,207.5 M120.0,215.5 L116.0,218.5 L113.0,222.5 L111.0,225.5 L110.0,228.1 M169.0,165.5 L163.0,168.5 L156.0,172.5 L150.0,174.5 L144.0,175.9 L139.0,178.5 L135.6,181.5 L133.0,183.1 L130.0,186.5 L126.0,191.5 L122.0,195.5 L120.0,197.5 M158.0,199.1 L162.0,196.5 L168.0,194.5 L171.0,193.5 L171.6,195.9 L175.0,196.5 L175.6,199.1 L173.0,202.5 L170.0,204.5 L167.0,203.5 L165.0,201.5 L161.0,201.1 L158.0,199.1 M180.0,192.5 L184.0,191.5 L188.0,193.1 L189.0,195.5 L185.0,194.5 L181.0,194.5 L180.0,192.5 M141.6,207.9 L145.0,206.1 L147.6,207.1 L146.0,209.9 L143.0,210.5 L141.6,207.9 M143.0,212.9 L146.0,213.1 M120.0,207.5 L124.0,209.9 L127.0,211.9 L123.0,214.5 L120.0,215.5 M253.0,165.5 L256.0,168.5 L261.0,171.5 L264.0,173.5 L265.0,169.5 L266.0,165.5 M264.0,173.5 L268.0,176.5 L271.0,180.5 L271.6,185.5 L269.6,191.5 L270.4,197.5 L269.0,202.5 L266.0,205.5 L260.0,206.5 L255.0,208.5 L251.0,207.5 L249.0,201.5 L250.0,195.5 L251.0,189.5 L249.0,184.5 L247.0,180.5 L248.0,176.5 L253.0,176.5 L258.0,175.1 L264.0,173.5 M308.0,165.5 L311.0,168.5 L315.0,171.5 L320.0,173.9 L325.0,173.5 L329.0,175.5 L333.0,178.5 L336.0,181.5 L340.0,183.5 L345.0,183.1 L348.0,185.5 L350.0,189.5 L351.6,190.5 M340.0,214.5 L346.0,213.5 L349.0,215.5 L350.0,218.5 M312.0,221.9 L316.0,220.7 L319.0,221.5 M318.6,178.7 L319.4,178.7 L319.4,179.5 L318.6,179.5 L318.6,178.7 M325.6,180.1 L326.4,180.1 L326.4,180.9 L325.6,180.9 L325.6,180.1 M333.6,181.5 L334.4,181.5 L334.4,182.3 L333.6,182.3 L333.6,181.5 M321.6,212.1 L322.4,212.1 L322.4,212.9 L321.6,212.9 L321.6,212.1"/>
</g>
<g id="deco">
<g opacity="0.999">
<text x="180.90" y="205.2" font-family="Liberation Sans, sans-serif" font-size="9.9" fill="#151515" textLength="22.53" lengthAdjust="spacingAndGlyphs">from</text>
<text x="206.51" y="205.2" font-family="Liberation Sans, sans-serif" font-size="9.9" fill="#151515" textLength="18.96" lengthAdjust="spacingAndGlyphs">grib</text>
<text x="228.54" y="205.2" font-family="Liberation Sans, sans-serif" font-size="9.9" fill="#151515" textLength="19.79" lengthAdjust="spacingAndGlyphs">files</text>
<text x="251.41" y="205.2" font-family="Liberation Sans, sans-serif" font-size="9.9" fill="#151515" textLength="42.50" lengthAdjust="spacingAndGlyphs">provided</text>
<text x="296.98" y="205.2" font-family="Liberation Sans, sans-serif" font-size="9.9" fill="#151515" textLength="11.87" lengthAdjust="spacingAndGlyphs">by</text>
<text x="311.93" y="205.2" font-family="Liberation Sans, sans-serif" font-size="9.9" fill="#151515" textLength="36.37" lengthAdjust="spacingAndGlyphs">ECMWF</text>
<text x="240.20" y="224.8" font-family="Liberation Sans, sans-serif" font-size="9.9" fill="#151515" textLength="33.23" lengthAdjust="spacingAndGlyphs">©2026</text>
<text x="276.41" y="224.8" font-family="Liberation Sans, sans-serif" font-size="9.9" fill="#151515" textLength="69.99" lengthAdjust="spacingAndGlyphs">sb@irizone.net</text>
</g>
<rect x="0" y="0" width="352.0" height="228.5" fill="none" stroke="#606060" stroke-width="1.3"/>
</g>
<g id="cbar">
<rect x="158.30" y="0" width="35.57" height="7.6" fill="#ffff00"/>
<rect x="193.57" y="0" width="35.57" height="7.6" fill="#ffd200"/>
<rect x="228.84" y="0" width="35.57" height="7.6" fill="#ffaa00"/>
<rect x="264.11" y="0" width="35.57" height="7.6" fill="#ff8200"/>
<rect x="299.38" y="0" width="35.57" height="7.6" fill="#ff6200"/>
<rect x="334.65" y="0" width="35.57" height="7.6" fill="#f01c08"/>
<rect x="369.92" y="0" width="35.57" height="7.6" fill="#cc0000"/>
<rect x="405.19" y="0" width="35.57" height="7.6" fill="#960000"/>
<rect x="440.46" y="0" width="35.57" height="7.6" fill="#640000"/>
<line x1="193.57" y1="0" x2="193.57" y2="7.6" stroke="#222" stroke-width="0.7"/>
<line x1="228.84" y1="0" x2="228.84" y2="7.6" stroke="#222" stroke-width="0.7"/>
<line x1="264.11" y1="0" x2="264.11" y2="7.6" stroke="#222" stroke-width="0.7"/>
<line x1="299.38" y1="0" x2="299.38" y2="7.6" stroke="#222" stroke-width="0.7"/>
<line x1="334.65" y1="0" x2="334.65" y2="7.6" stroke="#222" stroke-width="0.7"/>
<line x1="369.92" y1="0" x2="369.92" y2="7.6" stroke="#222" stroke-width="0.7"/>
<line x1="405.19" y1="0" x2="405.19" y2="7.6" stroke="#222" stroke-width="0.7"/>
<line x1="440.46" y1="0" x2="440.46" y2="7.6" stroke="#222" stroke-width="0.7"/>
<rect x="158.3" y="0" width="317.43" height="7.6" fill="none" stroke="#111" stroke-width="1"/>
<g opacity="0.999">
<text x="152.8" y="-4.3" font-family="Liberation Sans, sans-serif" font-size="10.3" fill="#222" textLength="11.0" lengthAdjust="spacingAndGlyphs">10</text>
<text x="188.1" y="-4.3" font-family="Liberation Sans, sans-serif" font-size="10.3" fill="#222" textLength="11.0" lengthAdjust="spacingAndGlyphs">25</text>
<text x="223.3" y="-4.3" font-family="Liberation Sans, sans-serif" font-size="10.3" fill="#222" textLength="11.0" lengthAdjust="spacingAndGlyphs">40</text>
<text x="258.6" y="-4.3" font-family="Liberation Sans, sans-serif" font-size="10.3" fill="#222" textLength="11.0" lengthAdjust="spacingAndGlyphs">50</text>
<text x="293.9" y="-4.3" font-family="Liberation Sans, sans-serif" font-size="10.3" fill="#222" textLength="11.0" lengthAdjust="spacingAndGlyphs">60</text>
<text x="329.2" y="-4.3" font-family="Liberation Sans, sans-serif" font-size="10.3" fill="#222" textLength="11.0" lengthAdjust="spacingAndGlyphs">70</text>
<text x="364.4" y="-4.3" font-family="Liberation Sans, sans-serif" font-size="10.3" fill="#222" textLength="11.0" lengthAdjust="spacingAndGlyphs">80</text>
<text x="399.7" y="-4.3" font-family="Liberation Sans, sans-serif" font-size="10.3" fill="#222" textLength="11.0" lengthAdjust="spacingAndGlyphs">90</text>
<text x="435.0" y="-4.3" font-family="Liberation Sans, sans-serif" font-size="10.3" fill="#222" textLength="11.0" lengthAdjust="spacingAndGlyphs">95</text>
<text x="467.4" y="-4.3" font-family="Liberation Sans, sans-serif" font-size="10.3" fill="#222" textLength="16.6" lengthAdjust="spacingAndGlyphs">100</text>
</g>
</g>
</defs>
<rect width="630" height="828" fill="#fff"/>
<g opacity="0.999">
<text x="11.00" y="23.6" font-family="Liberation Sans, sans-serif" font-size="13.6" fill="#151515" textLength="19.13" lengthAdjust="spacingAndGlyphs">IFS</text>
<text x="36.54" y="23.6" font-family="Liberation Sans, sans-serif" font-size="13.6" fill="#151515" text-anchor="middle">-</text>
<text x="42.95" y="23.6" font-family="Liberation Sans, sans-serif" font-size="13.6" fill="#151515" textLength="80.96" lengthAdjust="spacingAndGlyphs">Probabilities</text>
<text x="128.10" y="23.6" font-family="Liberation Sans, sans-serif" font-size="13.6" fill="#151515" textLength="29.66" lengthAdjust="spacingAndGlyphs">total</text>
<text x="161.89" y="23.6" font-family="Liberation Sans, sans-serif" font-size="13.6" fill="#151515" textLength="110.17" lengthAdjust="spacingAndGlyphs">precipitation/24h</text>
<text x="281.56" y="23.6" font-family="Liberation Sans, sans-serif" font-size="13.6" fill="#151515" text-anchor="middle">&gt;</text>
<text x="291.06" y="23.6" font-family="Liberation Sans, sans-serif" font-size="13.6" fill="#151515" textLength="16.41" lengthAdjust="spacingAndGlyphs">10</text>
<text x="311.57" y="23.6" font-family="Liberation Sans, sans-serif" font-size="13.6" fill="#151515" textLength="29.22" lengthAdjust="spacingAndGlyphs">mm,</text>
<text x="344.89" y="23.6" font-family="Liberation Sans, sans-serif" font-size="13.6" fill="#151515" textLength="24.79" lengthAdjust="spacingAndGlyphs">Init:</text>
<text x="373.75" y="23.6" font-family="Liberation Sans, sans-serif" font-size="13.6" fill="#151515" textLength="65.13" lengthAdjust="spacingAndGlyphs">20260120</text>
<text x="442.95" y="23.6" font-family="Liberation Sans, sans-serif" font-size="13.6" fill="#151515" textLength="23.00" lengthAdjust="spacingAndGlyphs">00z</text>
<text x="472.32" y="23.6" font-family="Liberation Sans, sans-serif" font-size="13.6" fill="#151515" text-anchor="middle">-</text>
<text x="478.70" y="23.6" font-family="Liberation Sans, sans-serif" font-size="13.6" fill="#151515" textLength="35.14" lengthAdjust="spacingAndGlyphs">Valid:</text>
<text x="517.91" y="23.6" font-family="Liberation Sans, sans-serif" font-size="13.6" fill="#151515" textLength="83.74" lengthAdjust="spacingAndGlyphs">20260129:00</text>
<text x="605.73" y="23.6" font-family="Liberation Sans, sans-serif" font-size="13.6" fill="#151515" textLength="17.27" lengthAdjust="spacingAndGlyphs">TU</text>
</g>
<use href="#cbar" y="35.8"/>
<g transform="translate(141.0,49.0)">
<g clip-path="url(#mc)">
<path fill="#ffff00" d="M-6.0,-3.0 L76.0,-3.0 L76.0,0.0 L79.0,4.0 L82.0,8.0 L83.0,13.0 L85.0,18.0 L89.0,21.0 L96.0,22.0 L106.0,22.0 L114.0,21.4 L122.0,20.6 L122.0,52.0 L112.0,52.0 L112.0,57.0 L114.0,62.0 L122.0,63.0 L122.0,83.0 L-6.0,83.0Z"/>
<path fill="#ffff00" d="M119.0,22.0 L128.0,23.0 L138.0,23.0 L145.0,25.0 L150.0,27.4 L156.0,30.0 L158.0,33.4 L154.0,36.0 L148.0,37.0 L144.0,40.0 L141.0,44.0 L141.0,49.0 L136.0,51.0 L128.0,51.4 L119.0,52.6Z"/>
<path fill="#ffff00" d="M119.0,63.0 L128.0,64.0 L135.0,66.0 L140.0,69.0 L144.0,74.0 L145.0,77.0 L150.0,78.0 L156.0,79.0 L162.0,81.0 L163.0,83.0 L119.0,83.0Z"/>
<path fill="#ffff00" d="M192.0,45.0 L197.0,43.4 L204.0,43.4 L208.0,44.6 L208.0,47.4 L202.0,48.0 L196.0,48.0 L192.0,47.0Z"/>
<path fill="#ffff00" d="M152.0,69.4 L154.0,69.4 L154.0,71.0 L152.0,71.0Z"/>
<path fill="#ffff00" d="M202.0,83.0 L202.0,81.0 L206.0,76.0 L212.0,74.0 L218.0,71.0 L224.0,67.0 L229.0,63.0 L233.0,64.0 L234.0,69.0 L236.0,74.0 L240.0,71.0 L243.0,65.0 L248.0,63.0 L248.0,83.0Z"/>
<path fill="#ffff00" d="M178.0,83.0 L178.0,81.0 L184.0,79.0 L190.0,77.0 L194.0,79.0 L196.0,81.0 L196.0,83.0Z"/>
<path fill="#ffff00" d="M245.0,63.0 L252.0,62.0 L256.0,65.0 L254.0,69.0 L250.0,71.4 L246.0,72.0 L252.0,74.0 L254.0,77.0 L252.0,81.0 L252.0,83.0 L245.0,83.0Z"/>
<path fill="#ffff00" d="M-6.0,80.0 L122.0,80.0 L122.0,167.0 L-6.0,167.0Z"/>
<path fill="#ffff00" d="M119.0,80.0 L248.0,80.0 L248.0,167.0 L119.0,167.0Z"/>
<path fill="#ffff00" d="M245.0,80.0 L374.0,80.0 L374.0,167.0 L245.0,167.0Z"/>
<path fill="#ffff00" d="M0.0,161.0 L87.0,161.0 L87.0,229.0 L0.0,229.0Z"/>
<path fill="#ffff00" d="M87.0,155.3 L158.4,155.3 L154.1,158.1 L152.0,161.0 L150.6,164.9 L148.4,168.1 L144.1,170.3 L143.4,174.6 L139.1,175.3 L137.7,172.4 L136.3,169.6 L132.7,168.1 L128.4,170.0 L126.3,174.6 L123.4,175.3 L122.7,172.9 L117.0,172.9 L112.7,172.9 L112.0,175.3 L109.1,175.3 L108.4,170.3 L105.6,165.3 L102.0,162.4 L99.6,164.6 L99.1,169.6 L102.7,173.1 L104.9,177.4 L107.0,182.4 L110.6,186.7 L113.4,191.0 L112.7,195.3 L108.4,198.9 L104.1,203.1 L99.9,206.0 L95.6,208.1 L94.1,213.1 L93.4,218.9 L92.7,224.6 L91.3,228.9 L87.0,228.9Z"/>
<path fill="#ffff00" d="M162.0,197.4 L164.9,194.6 L167.7,196.7 L166.3,199.6 L163.4,199.6Z"/>
<path fill="#ffff00" d="M177.0,150.0 L179.0,157.0 L183.0,162.0 L187.0,167.0 L190.0,171.0 L194.6,176.0 L196.6,181.0 L199.0,186.0 L202.0,191.0 L200.6,196.0 L196.6,199.0 L191.0,202.0 L186.0,206.0 L181.0,210.0 L179.0,215.0 L182.6,220.0 L186.0,224.0 L187.0,229.0 L287.0,229.0 L287.0,150.0Z"/>
<path fill="#ffff00" d="M185.0,172.0 L189.0,172.0 L189.0,176.0 L185.0,176.0Z"/>
<path fill="#ffff00" d="M246.0,165.0 L354.0,165.0 L354.0,229.0 L246.0,229.0Z"/>
<path fill="#ffffff" d="M46.4,4.0 L51.0,4.0 L51.0,8.0 L46.4,8.0Z"/>
<path fill="#ffffff" d="M53.0,4.0 L60.0,4.0 L60.0,7.0 L53.0,7.0Z"/>
<path fill="#ffffff" d="M43.0,28.4 L45.2,28.4 L45.2,30.6 L43.0,30.6Z"/>
<path fill="#ffffff" d="M80.0,60.6 L88.0,59.4 L96.0,60.6 L101.0,62.0 L98.0,66.0 L93.0,67.0 L88.0,64.0 L83.0,63.0Z"/>
<path fill="#ffffff" d="M168.0,80.0 L176.0,80.0 L177.0,84.0 L173.0,85.4 L169.0,84.0Z"/>
<path fill="#ffffff" d="M153.0,93.0 L158.0,89.0 L163.0,88.6 L168.0,91.0 L173.0,92.0 L178.0,93.0 L183.0,95.0 L180.0,98.0 L174.0,100.0 L170.0,102.0 L165.0,101.0 L159.0,99.0 L155.0,97.0Z"/>
<path fill="#ffffff" d="M235.0,87.0 L240.0,86.0 L242.0,90.0 L238.0,91.0Z"/>
<path fill="#ffffff" d="M241.0,82.6 L248.0,82.0 L248.0,85.4 L242.0,85.4Z"/>
<path fill="#ffffff" d="M239.0,118.0 L242.0,117.0 L242.4,123.0 L239.6,124.0Z"/>
<path fill="#ffffff" d="M150.0,167.0 L154.0,160.0 L160.0,156.0 L165.0,150.0 L169.0,147.0 L173.0,147.0 L176.0,151.0 L178.0,157.0 L182.0,161.0 L186.0,165.0 L187.0,167.0Z"/>
<path fill="#ffffff" d="M266.0,80.0 L265.0,83.0 L260.0,87.0 L256.0,90.0 L255.0,95.0 L255.0,101.0 L258.0,106.0 L264.0,110.0 L272.0,112.0 L280.0,111.0 L284.0,107.0 L288.0,103.0 L292.0,105.0 L293.0,109.0 L298.0,108.0 L304.0,106.0 L310.0,104.0 L316.0,102.0 L322.0,101.0 L326.0,98.0 L332.0,97.0 L338.0,100.0 L342.0,104.0 L346.0,107.0 L354.0,110.0 L354.0,80.0Z"/>
<path fill="#ffffff" d="M321.0,143.0 L325.0,140.0 L330.0,140.0 L335.0,143.0 L340.0,147.0 L354.0,149.0 L354.0,164.6 L337.0,164.6 L332.0,159.0 L326.0,153.0 L322.0,148.0Z"/>
<path fill="#ffffff" d="M199.0,174.0 L204.0,171.0 L212.0,170.6 L217.0,173.0 L216.0,177.0 L211.0,179.0 L207.0,181.0 L202.0,178.0Z"/>
<path fill="#ffffff" d="M200.0,222.0 L203.0,218.0 L208.0,217.0 L212.0,220.0 L210.0,223.0 L205.0,224.0 L202.0,225.0Z"/>
<path fill="#ffffff" d="M223.0,218.0 L228.0,216.0 L234.0,214.0 L238.0,211.0 L241.0,212.0 L239.0,216.0 L235.0,220.0 L230.0,222.0 L226.0,221.0Z"/>
<path fill="#ffffff" d="M267.0,185.0 L271.0,179.0 L278.0,179.0 L286.0,183.0 L293.0,188.0 L297.0,193.0 L300.0,196.6 L310.0,194.6 L315.6,198.6 L313.0,203.0 L304.0,206.6 L307.0,212.0 L308.4,216.0 L303.0,217.4 L296.0,216.0 L293.0,223.0 L296.0,229.0 L266.0,229.0 L264.0,223.0 L263.0,216.0 L266.0,212.0 L272.0,209.4 L270.0,201.0 L269.0,191.0Z"/>
<path fill="#ffff00" d="M274.0,82.0 L277.0,81.0 L280.0,82.6 L279.0,85.0 L275.6,85.0Z"/>
<path fill="#ffd200" d="M0.0,5.0 L8.0,6.0 L12.0,10.0 L11.0,16.0 L6.0,19.0 L3.0,22.0 L4.0,26.0 L9.0,29.0 L16.0,33.0 L18.0,39.0 L17.0,47.0 L13.0,49.0 L6.0,47.0 L0.0,45.0Z"/>
<path fill="#ffd200" d="M42.0,40.0 L46.0,36.0 L52.0,33.0 L58.0,32.6 L63.0,31.4 L67.0,34.0 L66.0,38.0 L62.0,39.0 L56.0,38.0 L54.0,40.6 L48.0,40.0 L44.0,43.0Z"/>
<path fill="#ffd200" d="M24.0,50.6 L26.0,50.6 L26.4,55.0 L24.0,55.0Z"/>
<path fill="#ffd200" d="M19.0,59.4 L25.0,59.4 L25.0,61.4 L19.0,61.4Z"/>
<path fill="#ffd200" d="M0.0,76.0 L8.0,77.0 L16.0,78.0 L22.0,81.0 L24.0,83.0 L0.0,83.0Z"/>
<path fill="#ffd200" d="M0.0,80.0 L23.0,80.0 L25.0,89.0 L16.0,91.4 L8.0,88.6 L0.0,85.4Z"/>
<path fill="#ffd200" d="M0.0,96.6 L10.0,95.4 L20.0,94.2 L30.0,92.2 L40.0,93.0 L50.0,95.4 L58.0,94.2 L66.0,92.0 L74.0,92.0 L82.0,94.2 L85.0,99.0 L86.4,105.0 L90.0,109.0 L98.0,111.0 L105.4,111.0 L114.0,113.0 L122.0,114.0 L122.0,151.0 L0.0,151.0Z"/>
<path fill="#ffd200" d="M58.0,87.0 L62.0,87.0 L62.0,90.0 L58.0,90.0Z"/>
<path fill="#ffd200" d="M65.0,81.0 L70.0,83.0 L76.0,86.0 L74.0,88.0 L68.0,86.0Z"/>
<path fill="#ffd200" d="M90.0,88.0 L98.0,90.0 L102.0,96.0 L98.0,97.0 L93.0,93.0Z"/>
<path fill="#ffd200" d="M87.0,108.1 L95.6,108.9 L102.7,108.1 L104.9,106.0 L108.4,105.3 L111.3,107.4 L117.0,105.3 L125.6,104.6 L132.7,103.1 L135.6,101.7 L144.1,102.4 L152.7,103.1 L161.3,104.6 L165.6,105.3 L169.9,109.6 L172.7,115.3 L174.9,121.7 L177.0,125.3 L177.0,129.6 L172.7,128.9 L169.9,131.7 L172.7,136.7 L171.3,141.0 L167.0,142.4 L161.3,141.7 L155.6,142.4 L151.3,143.9 L149.9,148.1 L152.7,152.4 L151.3,156.0 L147.0,157.4 L142.7,158.1 L139.9,161.7 L97.0,161.7 L94.1,157.0 L87.0,156.0Z"/>
<path fill="#ffd200" d="M206.0,97.0 L210.0,91.0 L216.0,89.4 L220.0,93.0 L226.0,94.0 L232.0,95.4 L238.0,98.0 L240.0,103.0 L238.0,109.0 L234.0,114.0 L229.0,118.0 L225.0,124.0 L232.0,126.0 L240.0,128.0 L248.0,127.0 L248.0,159.0 L240.0,158.0 L232.0,157.0 L224.0,156.0 L218.0,158.0 L214.0,155.0 L208.0,154.0 L202.0,153.0 L198.0,151.0 L196.0,147.0 L200.0,143.0 L208.0,141.0 L216.0,139.0 L220.0,133.0 L220.0,126.0 L214.0,124.0 L209.0,120.0 L206.0,115.0 L208.0,109.0 L210.0,103.0Z"/>
<path fill="#ffd200" d="M245.0,127.0 L252.0,124.0 L258.0,122.0 L266.0,123.0 L274.0,125.0 L282.0,127.4 L289.0,130.0 L294.0,132.0 L293.0,136.0 L288.0,137.0 L283.0,139.0 L281.0,143.0 L278.0,141.0 L272.0,140.0 L266.0,142.0 L260.0,144.0 L254.0,145.0 L249.0,148.0 L245.0,150.0Z"/>
<path fill="#ffd200" d="M252.0,167.0 L253.0,159.0 L256.0,155.0 L262.0,152.0 L266.0,149.0 L267.0,155.0 L266.0,161.0 L264.0,167.0Z"/>
<path fill="#ffd200" d="M295.0,151.0 L300.0,150.0 L305.0,153.0 L308.0,158.0 L311.0,163.0 L312.0,167.0 L302.0,167.0 L299.0,160.0 L296.0,156.0Z"/>
<path fill="#ffd200" d="M199.0,150.0 L205.0,154.0 L211.0,156.0 L217.0,159.0 L219.0,161.0 L223.0,159.0 L229.0,160.0 L235.0,159.0 L243.0,156.0 L249.0,153.0 L251.0,150.0Z"/>
<path fill="#ffd200" d="M250.0,160.0 L253.0,155.0 L258.0,152.0 L265.0,151.0 L268.0,155.0 L267.0,161.0 L264.0,167.0 L261.0,171.0 L257.0,170.0 L253.0,168.0 L250.0,165.0Z"/>
<path fill="#ffd200" d="M242.0,188.0 L246.0,184.0 L251.0,182.0 L257.0,183.0 L261.0,187.0 L264.0,192.0 L264.0,197.0 L260.0,200.0 L255.0,199.0 L250.0,198.0 L245.0,196.0 L242.6,192.0Z"/>
<path fill="#ffd200" d="M299.0,164.0 L304.0,169.0 L310.0,172.0 L316.0,175.0 L322.0,178.0 L328.0,180.0 L334.0,181.0 L340.0,184.0 L346.0,187.0 L354.0,190.0 L354.0,177.0 L346.0,172.0 L340.0,169.0 L334.0,166.0 L332.0,164.0Z"/>
<path fill="#ffd200" d="M318.0,223.0 L330.0,223.0 L330.0,229.0 L318.0,229.0Z"/>
<path fill="#ffd200" d="M104.1,155.3 L108.4,158.1 L115.6,161.0 L122.7,162.4 L129.9,161.7 L135.6,159.6 L139.9,156.7 L141.3,155.3Z"/>
<path fill="#ffd200" d="M0.0,151.0 L59.0,151.0 L59.0,229.0 L0.0,229.0Z"/>
<path fill="#ffd200" d="M90.0,153.2 L95.0,152.2 L100.0,152.0 L100.0,151.0 L59.0,151.0 L59.0,156.0 L86.0,156.0Z"/>
<path fill="#ffd200" d="M101.0,184.0 L99.0,181.0 L95.0,179.5 L91.0,178.0 L87.0,176.0 L85.5,174.0 L86.0,171.0 L88.0,169.0 L90.5,166.0 L91.0,162.0 L88.0,158.0 L84.8,156.0 L59.0,156.0 L59.0,186.0 L101.2,186.0Z"/>
<path fill="#ffd200" d="M86.0,228.5 L87.0,227.0 L88.5,224.0 L89.5,220.0 L90.0,216.0 L88.5,212.0 L86.0,209.5 L83.0,207.0 L82.0,204.5 L84.0,202.0 L86.0,199.0 L89.0,196.0 L91.0,193.0 L97.0,193.0 L101.0,191.0 L103.0,188.0 L103.4,186.0 L59.0,186.0 L59.0,228.5Z"/>
<path fill="#ffff00" d="M129.9,136.0 L133.4,133.9 L137.7,135.3 L140.6,138.1 L139.1,141.7 L134.9,142.4 L130.6,141.0Z"/>
<path fill="#ffff00" d="M68.5,197.5 L71.5,199.0 L74.5,201.0 L77.0,201.5 L75.5,199.5 L72.5,196.5 L69.5,194.0 L67.0,195.0Z"/>
<path fill="#ffff00" d="M42.5,179.5 L46.0,179.5 L49.0,181.0 L52.0,183.5 L55.0,183.0 L54.5,180.0 L52.0,176.5 L49.0,173.5 L45.5,173.0 L42.0,175.5 L40.0,177.5Z"/>
<path fill="#ffaa00" d="M0.1,106.4 L5.6,105.3 L12.7,104.6 L19.9,105.0 L27.0,106.0 L34.1,105.3 L38.4,103.1 L42.7,102.7 L46.3,104.6 L49.1,108.1 L54.1,111.0 L59.9,113.1 L61.3,118.1 L60.6,123.9 L0.1,123.9Z"/>
<path fill="#ffaa00" d="M58.1,123.0 L0.0,123.0 L0.0,156.0 L39.0,156.0 L40.0,155.0 L44.0,156.0 L49.0,156.0 L54.0,154.0 L57.0,151.0 L58.0,147.0 L56.0,143.0 L52.0,141.5 L50.0,139.0 L54.0,136.0 L57.0,132.0 L59.0,127.0Z"/>
<path fill="#ffaa00" d="M50.0,183.5 L46.0,181.5 L42.0,180.0 L38.0,178.5 L34.0,177.5 L32.0,175.0 L32.5,171.5 L34.0,168.0 L36.0,164.0 L38.0,160.0 L38.4,156.0 L0.0,156.0 L0.0,186.0 L54.0,186.0Z"/>
<path fill="#ffaa00" d="M44.0,157.5 L49.0,158.5 L54.0,158.5 L56.0,157.0 L53.3,156.0 L42.5,156.0Z"/>
<path fill="#ffaa00" d="M57.5,189.0 L56.2,186.0 L0.0,186.0 L0.0,229.0 L59.0,229.0 L59.0,190.8Z"/>
<path fill="#ffaa00" d="M77.0,155.0 L71.0,155.0 L67.0,155.5 L62.0,154.5 L59.0,153.9 L59.0,156.0 L81.0,156.0Z"/>
<path fill="#ffaa00" d="M63.5,145.0 L66.0,147.0 L72.0,146.0 L75.0,144.0 L70.0,142.2 L64.0,142.5Z"/>
<path fill="#ffaa00" d="M69.0,158.5 L70.0,162.5 L73.0,166.0 L78.0,168.2 L83.0,168.8 L87.5,167.5 L89.5,164.5 L88.0,160.5 L84.0,157.0 L80.7,156.0 L72.0,156.0Z"/>
<path fill="#ffaa00" d="M60.5,178.5 L63.0,181.0 L68.0,182.5 L74.0,182.0 L78.0,180.0 L78.5,176.5 L75.0,173.5 L69.0,172.5 L63.0,173.5 L60.0,176.0Z"/>
<path fill="#ffaa00" d="M99.0,185.0 L96.0,182.0 L91.0,181.0 L87.0,183.0 L86.8,186.0 L98.9,186.0Z"/>
<path fill="#ffaa00" d="M86.0,228.5 L88.5,224.0 L89.7,218.9 L89.0,215.0 L86.1,211.7 L79.0,210.5 L71.9,209.6 L66.5,204.0 L64.0,201.0 L60.0,198.0 L59.0,197.5 L59.0,229.0 L85.0,229.0Z"/>
<path fill="#ffaa00" d="M88.5,189.0 L92.0,191.5 L96.5,191.5 L99.5,189.5 L100.8,186.0 L87.6,186.0Z"/>
<path fill="#ffaa00" d="M89.9,139.6 L93.4,135.3 L98.4,128.1 L102.7,126.0 L108.4,125.3 L113.4,127.4 L109.9,130.3 L107.0,134.6 L104.9,138.4 L100.6,140.3 L95.6,141.7 L91.3,142.4Z"/>
<path fill="#ffaa00" d="M87.0,143.9 L95.6,142.4 L104.1,140.3 L112.7,141.7 L121.3,143.9 L128.4,146.7 L132.7,150.3 L129.9,154.6 L124.1,157.4 L117.0,158.1 L109.9,156.7 L101.3,153.9 L94.1,151.0 L87.0,149.6Z"/>
<path fill="#ffaa00" d="M155.6,118.1 L159.9,115.3 L165.6,114.6 L170.6,117.4 L173.4,122.4 L171.3,126.0 L166.3,126.7 L162.0,123.9 L157.7,121.7Z"/>
<path fill="#ffaa00" d="M115.6,155.3 L119.9,158.1 L125.6,158.1 L129.9,155.3Z"/>
<path fill="#ffaa00" d="M213.0,115.0 L217.0,113.0 L222.0,115.0 L223.0,120.0 L220.0,123.0 L215.6,122.0 L213.0,119.0Z"/>
<path fill="#ffd200" d="M29.5,217.5 L33.0,220.0 L38.0,221.0 L43.0,221.2 L48.0,220.0 L50.5,217.5 L49.5,214.5 L45.0,212.5 L39.0,211.8 L33.0,212.2 L28.5,213.5Z"/>
<path fill="#ff8200" d="M0.1,115.0 L7.0,113.1 L12.7,111.0 L18.4,108.9 L24.1,109.6 L28.4,113.1 L32.7,114.6 L38.4,113.9 L44.1,114.6 L48.4,117.4 L52.0,122.4 L52.4,123.9 L0.1,123.9Z"/>
<path fill="#ff8200" d="M34.0,155.0 L37.0,152.0 L40.0,150.5 L44.0,151.5 L49.0,152.0 L53.0,150.5 L54.5,147.5 L53.0,144.5 L49.0,143.0 L44.0,143.5 L40.0,144.5 L38.0,143.0 L37.0,140.5 L40.0,139.0 L44.0,138.0 L48.0,136.0 L51.0,133.0 L53.0,129.0 L52.0,126.0 L50.3,123.0 L0.0,123.0 L0.0,156.0 L33.0,156.0Z"/>
<path fill="#ff8200" d="M45.0,185.5 L40.0,183.5 L35.0,182.5 L30.0,182.0 L26.0,181.5 L24.5,179.0 L25.0,176.0 L27.0,173.5 L30.0,171.0 L32.0,168.0 L33.0,164.0 L33.5,160.0 L33.1,156.0 L0.0,156.0 L0.0,186.0 L45.8,186.0Z"/>
<path fill="#ff8200" d="M56.0,197.0 L52.0,194.5 L53.5,192.0 L54.5,189.0 L53.2,186.0 L0.0,186.0 L0.0,209.5 L3.0,209.0 L7.0,209.5 L11.0,208.5 L14.0,206.5 L14.5,203.5 L14.0,200.0 L16.0,197.0 L20.0,196.0 L25.0,196.5 L30.0,197.0 L35.0,196.5 L39.5,196.8 L36.5,198.5 L34.5,201.0 L34.0,204.0 L36.0,206.0 L40.0,207.2 L45.0,207.7 L50.0,207.7 L55.0,207.2 L59.0,206.6 L59.0,198.5Z"/>
<path fill="#ff8200" d="M4.5,219.0 L5.5,215.0 L4.0,211.5 L0.0,212.0 L0.0,219.5Z"/>
<path fill="#ff8200" d="M26.5,223.5 L24.5,219.5 L22.5,216.0 L19.5,213.8 L16.5,214.5 L16.5,217.0 L18.0,220.0 L20.0,224.0 L21.2,229.0 L26.9,229.0Z"/>
<path fill="#ff8200" d="M72.5,162.0 L75.5,165.0 L80.0,166.5 L84.5,165.5 L86.0,162.5 L84.0,159.0 L80.0,156.8 L75.0,156.8 L71.5,159.0Z"/>
<path fill="#ff8200" d="M62.0,179.8 L64.5,179.5 L65.0,177.2 L63.0,175.8 L60.8,177.2Z"/>
<path fill="#ff8200" d="M95.5,184.5 L92.0,183.0 L88.5,184.5 L88.5,186.0 L96.1,186.0Z"/>
<path fill="#ff8200" d="M59.5,201.5 L59.0,201.0 L59.0,202.3Z"/>
<path fill="#ff8200" d="M75.5,225.0 L79.0,226.8 L83.5,226.0 L85.5,223.0 L84.5,219.5 L81.0,217.8 L76.5,218.5 L74.0,220.5Z"/>
<path fill="#ff8200" d="M91.0,189.0 L95.0,190.0 L98.0,188.0 L98.4,186.0 L89.3,186.0Z"/>
<path fill="#ff8200" d="M100.6,146.7 L108.4,145.3 L117.0,146.0 L124.1,147.4 L128.4,150.3 L125.6,153.1 L118.4,154.6 L111.3,153.1 L104.1,150.3Z"/>
<path fill="#ff8200" d="M161.3,118.9 L165.6,118.1 L169.1,121.0 L168.4,124.6 L164.9,123.9 L162.0,121.7Z"/>
<path fill="#ff6200" d="M0.1,122.4 L5.6,121.0 L11.3,119.6 L17.0,118.9 L21.3,117.4 L25.6,116.0 L30.6,117.4 L34.1,121.0 L35.6,123.9 L0.1,123.9Z"/>
<path fill="#ff6200" d="M33.0,152.0 L35.0,147.0 L34.5,144.0 L32.0,141.0 L28.5,139.5 L30.0,138.0 L33.0,137.0 L36.0,135.0 L40.0,135.5 L44.0,134.0 L43.0,131.0 L40.0,127.0 L37.3,123.0 L0.0,123.0 L0.0,156.0 L29.0,156.0Z"/>
<path fill="#ff6200" d="M41.0,149.0 L45.0,150.0 L49.0,149.5 L50.0,147.0 L47.0,145.5 L43.0,145.5 L39.5,147.0Z"/>
<path fill="#ff6200" d="M35.0,184.5 L30.0,184.0 L25.0,184.5 L21.5,183.0 L20.0,180.0 L19.5,176.5 L21.0,174.0 L23.5,172.0 L27.0,170.0 L29.0,168.0 L28.0,164.0 L27.0,160.0 L26.6,156.0 L0.0,156.0 L0.0,186.0 L40.0,186.0Z"/>
<path fill="#ff6200" d="M5.0,199.5 L10.0,197.0 L15.0,194.5 L20.0,194.0 L25.0,194.8 L30.0,195.5 L35.0,195.0 L40.0,194.5 L45.0,194.5 L48.0,193.0 L47.0,190.5 L44.0,188.0 L40.8,186.0 L0.0,186.0 L0.0,201.0Z"/>
<path fill="#ff6200" d="M57.0,201.0 L52.0,200.0 L47.0,199.5 L43.0,200.0 L39.0,201.0 L40.0,202.5 L44.0,203.2 L48.0,203.0 L52.0,203.2 L56.0,203.5 L59.0,202.5Z"/>
<path fill="#ff6200" d="M8.5,205.5 L10.0,206.5 L12.5,206.0 L13.0,204.0 L11.0,202.5 L8.0,203.5Z"/>
<path fill="#ff6200" d="M75.0,161.8 L77.5,164.0 L81.0,164.2 L83.0,162.0 L81.5,159.2 L78.0,158.0 L74.5,159.5Z"/>
<path fill="#ff6200" d="M92.0,184.5 L89.5,185.5 L89.5,186.0 L94.0,186.0Z"/>
<path fill="#ff6200" d="M78.0,225.0 L81.5,225.2 L83.5,223.0 L82.5,220.5 L79.0,220.0 L76.5,221.5Z"/>
<path fill="#ff6200" d="M105.6,148.9 L111.3,147.0 L118.4,147.4 L123.4,149.6 L121.3,151.7 L115.6,152.7 L109.9,151.7Z"/>
<path fill="#f01c08" d="M27.0,155.0 L30.0,153.0 L31.0,150.0 L29.0,146.5 L25.0,144.5 L20.0,143.8 L16.0,144.5 L12.0,143.5 L9.0,141.5 L7.5,139.0 L7.0,136.0 L8.0,134.0 L10.0,133.0 L14.0,133.5 L19.0,134.0 L21.5,132.5 L21.0,130.0 L16.0,129.2 L10.0,129.0 L4.0,129.5 L0.0,130.5 L0.0,156.0 L26.3,156.0Z"/>
<path fill="#f01c08" d="M24.5,128.0 L26.5,129.5 L28.0,126.5 L26.5,124.0 L24.5,124.5Z"/>
<path fill="#f01c08" d="M43.2,148.2 L45.5,148.8 L47.5,147.8 L46.0,146.5 L43.0,147.0Z"/>
<path fill="#f01c08" d="M19.0,185.0 L17.5,182.0 L15.0,178.5 L13.5,176.0 L12.5,173.0 L13.0,169.0 L15.0,166.0 L18.0,164.5 L21.5,164.0 L24.0,163.0 L24.5,160.0 L24.1,156.0 L0.0,156.0 L0.0,186.0 L18.8,186.0Z"/>
<path fill="#f01c08" d="M4.0,197.5 L7.0,195.5 L11.0,193.0 L15.0,190.5 L18.5,188.0 L18.9,186.0 L0.0,186.0 L0.0,198.5Z"/>
<path fill="#f01c08" d="M31.0,187.0 L29.5,189.0 L30.5,190.5 L33.0,191.5 L37.0,192.2 L41.0,192.5 L43.0,191.0 L40.5,189.0 L37.5,187.0 L34.0,186.0Z"/>
<path fill="#f01c08" d="M110.6,149.3 L115.6,148.9 L119.1,150.3 L115.6,151.3 L112.0,151.0Z"/>
<path fill="#cc0000" d="M22.5,154.0 L25.0,152.5 L27.5,150.5 L26.5,148.0 L23.0,147.0 L19.0,148.0 L15.0,150.0 L13.0,153.0 L11.1,156.0 L21.8,156.0Z"/>
<path fill="#cc0000" d="M10.5,183.0 L9.5,179.0 L8.0,175.0 L8.5,171.0 L7.0,166.5 L4.0,164.5 L0.0,164.0 L0.0,186.0 L10.1,186.0Z"/>
<path fill="#cc0000" d="M11.5,159.0 L14.0,161.0 L18.0,162.0 L22.0,161.5 L23.0,159.0 L22.1,156.0 L11.1,156.0Z"/>
<path fill="#cc0000" d="M3.0,194.5 L6.0,192.0 L9.0,189.0 L9.9,186.0 L0.0,186.0 L0.0,196.0Z"/>
<use href="#base"/>
</g>
<use href="#deco"/>
</g>
<g opacity="0.999">
<text x="11.00" y="292.1" font-family="Liberation Sans, sans-serif" font-size="13.6" fill="#151515" textLength="19.13" lengthAdjust="spacingAndGlyphs">IFS</text>
<text x="36.54" y="292.1" font-family="Liberation Sans, sans-serif" font-size="13.6" fill="#151515" text-anchor="middle">-</text>
<text x="42.95" y="292.1" font-family="Liberation Sans, sans-serif" font-size="13.6" fill="#151515" textLength="80.96" lengthAdjust="spacingAndGlyphs">Probabilities</text>
<text x="128.10" y="292.1" font-family="Liberation Sans, sans-serif" font-size="13.6" fill="#151515" textLength="29.66" lengthAdjust="spacingAndGlyphs">total</text>
<text x="161.89" y="292.1" font-family="Liberation Sans, sans-serif" font-size="13.6" fill="#151515" textLength="110.17" lengthAdjust="spacingAndGlyphs">precipitation/24h</text>
<text x="281.56" y="292.1" font-family="Liberation Sans, sans-serif" font-size="13.6" fill="#151515" text-anchor="middle">&gt;</text>
<text x="291.06" y="292.1" font-family="Liberation Sans, sans-serif" font-size="13.6" fill="#151515" textLength="16.41" lengthAdjust="spacingAndGlyphs">50</text>
<text x="311.57" y="292.1" font-family="Liberation Sans, sans-serif" font-size="13.6" fill="#151515" textLength="29.22" lengthAdjust="spacingAndGlyphs">mm,</text>
<text x="344.89" y="292.1" font-family="Liberation Sans, sans-serif" font-size="13.6" fill="#151515" textLength="24.79" lengthAdjust="spacingAndGlyphs">Init:</text>
<text x="373.75" y="292.1" font-family="Liberation Sans, sans-serif" font-size="13.6" fill="#151515" textLength="65.13" lengthAdjust="spacingAndGlyphs">20260120</text>
<text x="442.95" y="292.1" font-family="Liberation Sans, sans-serif" font-size="13.6" fill="#151515" textLength="23.00" lengthAdjust="spacingAndGlyphs">00z</text>
<text x="472.32" y="292.1" font-family="Liberation Sans, sans-serif" font-size="13.6" fill="#151515" text-anchor="middle">-</text>
<text x="478.70" y="292.1" font-family="Liberation Sans, sans-serif" font-size="13.6" fill="#151515" textLength="35.14" lengthAdjust="spacingAndGlyphs">Valid:</text>
<text x="517.91" y="292.1" font-family="Liberation Sans, sans-serif" font-size="13.6" fill="#151515" textLength="83.74" lengthAdjust="spacingAndGlyphs">20260129:00</text>
<text x="605.73" y="292.1" font-family="Liberation Sans, sans-serif" font-size="13.6" fill="#151515" textLength="17.27" lengthAdjust="spacingAndGlyphs">TU</text>
</g>
<use href="#cbar" y="304.3"/>
<g transform="translate(141.0,317.5)">
<g clip-path="url(#mc)">
<path fill="#ffff00" d="M0.0,153.1 L4.0,154.5 L5.0,157.1 L3.0,159.5 L6.0,162.5 L8.0,165.5 L8.0,167.5 L0.0,167.5Z"/>
<path fill="#ffff00" d="M0.0,164.5 L8.0,164.5 L9.0,171.5 L7.0,175.5 L10.0,180.5 L9.0,185.5 L6.0,188.5 L3.0,189.1 L0.0,189.5Z"/>
<path fill="#ffff00" d="M35.0,187.1 L40.4,187.5 L37.6,190.5Z"/>
<use href="#base"/>
</g>
<use href="#deco"/>
</g>
<g opacity="0.999">
<text x="6.90" y="560.6" font-family="Liberation Sans, sans-serif" font-size="13.6" fill="#151515" textLength="19.13" lengthAdjust="spacingAndGlyphs">IFS</text>
<text x="32.44" y="560.6" font-family="Liberation Sans, sans-serif" font-size="13.6" fill="#151515" text-anchor="middle">-</text>
<text x="38.85" y="560.6" font-family="Liberation Sans, sans-serif" font-size="13.6" fill="#151515" textLength="80.91" lengthAdjust="spacingAndGlyphs">Probabilities</text>
<text x="123.97" y="560.6" font-family="Liberation Sans, sans-serif" font-size="13.6" fill="#151515" textLength="29.68" lengthAdjust="spacingAndGlyphs">total</text>
<text x="157.77" y="560.6" font-family="Liberation Sans, sans-serif" font-size="13.6" fill="#151515" textLength="110.18" lengthAdjust="spacingAndGlyphs">precipitation/24h</text>
<text x="277.46" y="560.6" font-family="Liberation Sans, sans-serif" font-size="13.6" fill="#151515" text-anchor="middle">&gt;</text>
<text x="286.96" y="560.6" font-family="Liberation Sans, sans-serif" font-size="13.6" fill="#151515" textLength="24.61" lengthAdjust="spacingAndGlyphs">100</text>
<text x="315.67" y="560.6" font-family="Liberation Sans, sans-serif" font-size="13.6" fill="#151515" textLength="29.22" lengthAdjust="spacingAndGlyphs">mm,</text>
<text x="348.99" y="560.6" font-family="Liberation Sans, sans-serif" font-size="13.6" fill="#151515" textLength="24.77" lengthAdjust="spacingAndGlyphs">Init:</text>
<text x="377.83" y="560.6" font-family="Liberation Sans, sans-serif" font-size="13.6" fill="#151515" textLength="65.13" lengthAdjust="spacingAndGlyphs">20260120</text>
<text x="447.03" y="560.6" font-family="Liberation Sans, sans-serif" font-size="13.6" fill="#151515" textLength="23.00" lengthAdjust="spacingAndGlyphs">00z</text>
<text x="476.41" y="560.6" font-family="Liberation Sans, sans-serif" font-size="13.6" fill="#151515" text-anchor="middle">-</text>
<text x="482.78" y="560.6" font-family="Liberation Sans, sans-serif" font-size="13.6" fill="#151515" textLength="35.14" lengthAdjust="spacingAndGlyphs">Valid:</text>
<text x="522.00" y="560.6" font-family="Liberation Sans, sans-serif" font-size="13.6" fill="#151515" textLength="83.75" lengthAdjust="spacingAndGlyphs">20260129:00</text>
<text x="609.83" y="560.6" font-family="Liberation Sans, sans-serif" font-size="13.6" fill="#151515" textLength="17.27" lengthAdjust="spacingAndGlyphs">TU</text>
</g>
<use href="#cbar" y="572.8"/>
<g transform="translate(141.0,586.0)">
<g clip-path="url(#mc)">
<use href="#base"/>
</g>
<use href="#deco"/>
</g>
</svg></body></html>
